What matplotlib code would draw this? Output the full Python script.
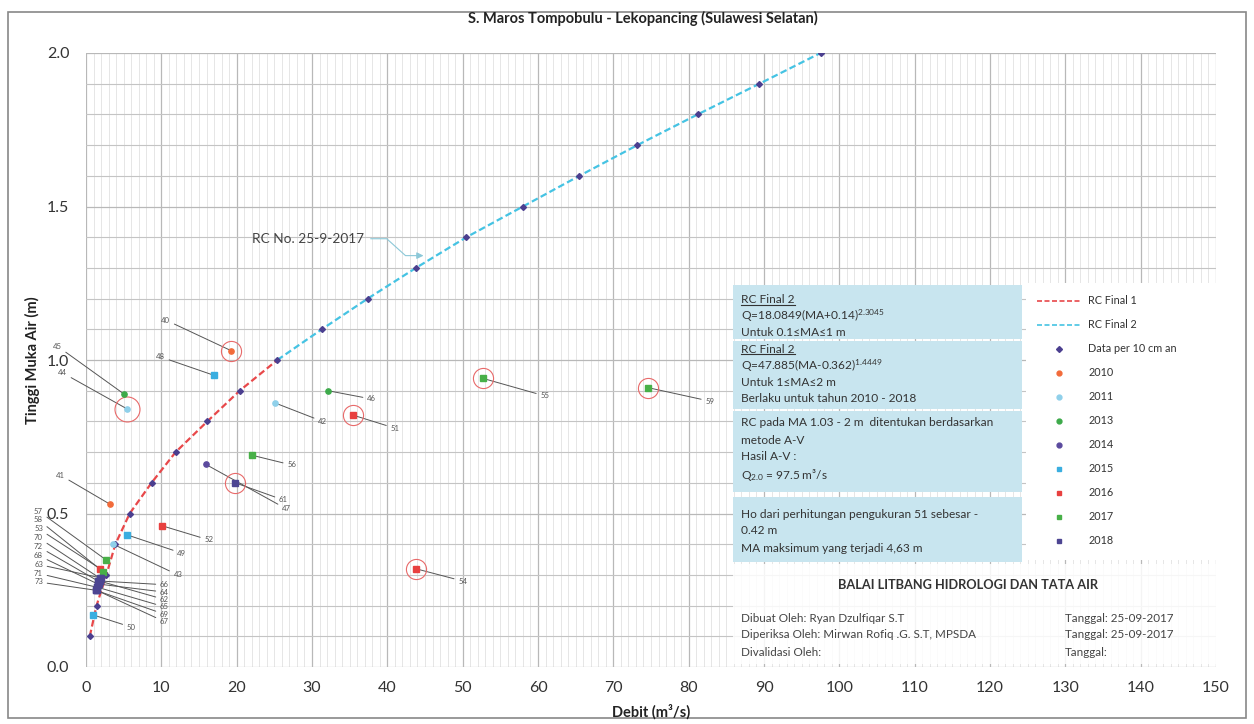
import matplotlib.pyplot as plt
import matplotlib.ticker as mticker
from matplotlib.lines import Line2D
from matplotlib.patches import Rectangle

plt.rcParams['font.family'] = ['Lato', 'DejaVu Sans']
plt.rcParams['mathtext.default'] = 'regular'

W, H = 1254, 724

# ---- rating curve points (per 10 cm) ----
ma_10cm = [0.1, 0.2, 0.3, 0.4, 0.5, 0.6, 0.7, 0.8, 0.9, 1.0,
           1.1, 1.2, 1.3, 1.4, 1.5, 1.6, 1.7, 1.8, 1.9, 2.0]
q_10cm = [0.5, 1.4, 2.7, 3.9, 5.8, 8.7, 11.9, 16.1, 20.4, 25.4,
          31.3, 37.4, 43.8, 50.5, 58.0, 65.5, 73.2, 81.2, 89.4, 97.5]
n_rc1 = 10  # first 10 points belong to RC Final 1

# ---- gauging measurements ----
meas_no = ['40', '41', '42', '43', '44', '45', '46', '47', '48', '49', '50',
           '51', '52', '53', '54', '55', '56', '57', '58', '59',
           '61', '62', '63', '64', '65', '66', '67', '68', '69',
           '70', '71', '72', '73']
meas_year = ['2010', '2010', '2011', '2011', '2011', '2013', '2013', '2014', '2015', '2015', '2015',
             '2016', '2016', '2016', '2016', '2017', '2017', '2017', '2017', '2017',
             '2018', '2018', '2018', '2018', '2018', '2018', '2018', '2018', '2018',
             '2018', '2018', '2018', '2018']
meas_q = [19.3, 3.2, 25.1, 3.6, 5.5, 5.0, 32.1, 15.9, 17.0, 5.5, 0.9,
          35.5, 10.1, 1.9, 43.8, 52.7, 22.0, 2.6, 2.3, 74.6,
          19.8, 1.8, 2.0, 1.7, 1.5, 1.9, 1.4, 1.6, 1.3,
          1.8, 1.4, 1.6, 1.3]
meas_ma = [1.03, 0.53, 0.86, 0.40, 0.84, 0.89, 0.90, 0.66, 0.95, 0.43, 0.17,
           0.82, 0.46, 0.32, 0.32, 0.94, 0.69, 0.35, 0.31, 0.91,
           0.60, 0.28, 0.29, 0.27, 0.26, 0.28, 0.25, 0.27, 0.25,
           0.29, 0.26, 0.28, 0.25]
circled = ['40', '44', '51', '54', '55', '59', '61']

# label text positions (layout only)
label_pos = {
    '40': (11.2, 1.13), '41': (-2.8, 0.625), '42': (30.8, 0.80), '43': (11.6, 0.30),
    '44': (-2.5, 0.958), '45': (-3.2, 1.045), '46': (37.3, 0.873), '47': (26.0, 0.515),
    '48': (10.5, 1.01), '49': (12.1, 0.371), '50': (5.4, 0.13), '51': (40.4, 0.778),
    '52': (15.7, 0.414), '53': (-5.7, 0.450), '54': (49.4, 0.28), '55': (60.3, 0.883),
    '56': (26.7, 0.658), '57': (-5.7, 0.508), '58': (-5.7, 0.479), '59': (82.2, 0.866),
    '61': (25.6, 0.544), '62': (9.8, 0.220), '63': (-5.7, 0.334), '64': (9.8, 0.244),
    '65': (9.8, 0.196), '66': (9.8, 0.268), '67': (9.8, 0.148), '68': (-5.7, 0.363),
    '69': (9.8, 0.172), '70': (-5.7, 0.421), '71': (-5.7, 0.305), '72': (-5.7, 0.392),
    '73': (-5.7, 0.277),
}

year_style = {
    '2010': ('#f26b3a', 'o'), '2011': ('#8fd0ea', 'o'), '2013': ('#3daa4a', 'o'),
    '2014': ('#5b4a9e', 'o'), '2015': ('#3aaee0', 's'), '2016': ('#e8403f', 's'),
    '2017': ('#48b048', 's'), '2018': ('#4d4592', 's'),
}
navy = '#4b3f8f'

fig = plt.figure(figsize=(W / 100, H / 100), dpi=100)
ax = fig.add_axes([86 / W, 1 - 667 / H, (1216 - 86) / W, (667 - 53) / H])
ax.set_xlim(0, 150)
ax.set_ylim(0, 2.0)

# grid
ax.xaxis.set_major_locator(mticker.MultipleLocator(10))
ax.xaxis.set_minor_locator(mticker.MultipleLocator(1))
ax.yaxis.set_major_locator(mticker.MultipleLocator(0.5))
ax.yaxis.set_minor_locator(mticker.MultipleLocator(0.1))
ax.yaxis.set_major_formatter(mticker.FormatStrFormatter('%.1f'))
ax.grid(True, which='major', color='#b8b8b8', lw=0.9)
ax.grid(True, which='minor', axis='x', color='#e2e2e2', lw=0.6)
ax.grid(True, which='minor', axis='y', color='#c4c4c4', lw=0.8)
ax.set_axisbelow(True)
for s in ax.spines.values():
    s.set_visible(False)
ax.tick_params(which='both', length=0)
ax.tick_params(axis='y', labelsize=11.5, labelcolor='#333333', pad=12)
ax.tick_params(axis='x', labelsize=11.5, labelcolor='#333333', pad=10)

# rating curves
ax.plot(q_10cm[:n_rc1], ma_10cm[:n_rc1], ls=(0, (3, 1.5)), color='#e8484a', lw=1.6, zorder=3)
ax.plot(q_10cm[n_rc1 - 1:], ma_10cm[n_rc1 - 1:], ls=(0, (3, 1.5)), color='#45c3e3', lw=1.6, zorder=3)
ax.plot(q_10cm, ma_10cm, ls='none', marker='D', ms=3.0, color=navy, zorder=4)

# measurements
for no, yr, q, ma in zip(meas_no, meas_year, meas_q, meas_ma):
    c, m = year_style[yr]
    ax.plot(q, ma, ls='none', marker=m, ms=3.8, color=c, zorder=5)
    lx, ly = label_pos[no]
    ax.annotate(no, xy=(q, ma), xytext=(lx, ly), fontsize=5.6, color='#555555',
                ha='right' if lx < q else 'left', va='center', annotation_clip=False,
                arrowprops=dict(arrowstyle='-', color='#555555', lw=0.7,
                                shrinkA=1, shrinkB=1.5))
    if no in circled:
        ax.plot(q, ma, ls='none', marker='o', ms=18 if no == '44' else 14.5,
                mfc='none', mec='#e86a6a', mew=0.8, zorder=5)

ax.annotate('RC No. 25-9-2017', xy=(q_10cm[12] + 1.0, 1.34), xytext=(22.0, 1.395),
            fontsize=9.8, color='#444444', va='center', ha='left',
            arrowprops=dict(arrowstyle='-|>', color='#8cc8d8', lw=0.8, relpos=(1, 0.5),
                            connectionstyle='arc,angleA=0,angleB=180,armA=23,armB=18,rad=0',
                            shrinkA=3, shrinkB=0))

# title and axis labels
fig.text(643 / W, 1 - 18 / H, 'S. Maros Tompobulu - Lekopancing (Sulawesi Selatan)',
         ha='center', va='center', fontsize=10.5, fontweight='bold', color='#222222')
fig.text(651 / W, 1 - 712 / H, 'Debit (m\u00b3/s)', ha='center', va='center',
         fontsize=10.5, fontweight='bold', color='#222222')
fig.text(32 / W, 1 - 360 / H, 'Tinggi Muka Air (m)', ha='center', va='center',
         rotation=90, fontsize=10.5, fontweight='bold', color='#222222')

# outer border
fig.patches.append(Rectangle((8 / W, 1 - 718 / H), (1246 - 8) / W, (718 - 12) / H,
                             transform=fig.transFigure, fill=False, ec='#888888', lw=1.2))


def fbox(x0, y0, x1, y1, **kw):
    fig.patches.append(Rectangle((x0 / W, 1 - y1 / H), (x1 - x0) / W, (y1 - y0) / H,
                                 transform=fig.transFigure, **kw))


# white panel behind the legend
fbox(1026, 283, 1222, 560, fc='white', ec='none', zorder=5)

# info box (blue)
blue = '#c8e5ef'
fbox(733, 285, 1022, 339, fc=blue, ec='none', zorder=6)
fbox(733, 341, 1022, 409, fc=blue, ec='none', zorder=6)
fbox(733, 411, 1022, 492, fc=blue, ec='none', zorder=6)
fbox(733, 497, 1022, 562, fc=blue, ec='none', zorder=6)

info_lines = [
    (300, 'RC Final 2', True),
    (316, 'Q=18.0849(MA+0.14)$^{2.3045}$', False),
    (332, 'Untuk 0.1\u2264MA\u22641 m', False),
    (349, 'RC Final 2', True),
    (366, 'Q=47.885(MA-0.362)$^{1.4449}$', False),
    (382, 'Untuk 1\u2264MA\u22642 m', False),
    (399, 'Berlaku untuk tahun 2010 - 2018', False),
    (423, 'RC pada MA 1.03 - 2 m  ditentukan berdasarkan', False),
    (440, 'metode A-V', False),
    (457, 'Hasil A-V :', False),
    (475, 'Q$_{2.0}$ = 97.5 m\u00b3/s', False),
    (514, 'Ho dari perhitungan pengukuran 51 sebesar -', False),
    (531, '0.42 m', False),
    (548, 'MA maksimum yang terjadi 4,63 m', False),
]
under = []
for y, s, ul in info_lines:
    t = fig.text(741 / W, 1 - y / H, s, ha='left', va='center', fontsize=8.6,
                 color='#333333', zorder=7)
    if ul:
        under.append(t)

# legend
handles = [
    Line2D([], [], ls=(0, (3, 1.5)), color='#e8484a', lw=1.2),
    Line2D([], [], ls=(0, (3, 1.5)), color='#45c3e3', lw=1.2),
    Line2D([], [], ls='none', marker='D', ms=3, color=navy),
]
labels = ['RC Final 1', 'RC Final 2', 'Data per 10 cm an']
for yr in ['2010', '2011', '2013', '2014', '2015', '2016', '2017', '2018']:
    c, m = year_style[yr]
    handles.append(Line2D([], [], ls='none', marker=m, ms=3.5, color=c))
    labels.append(yr)
leg = fig.legend(handles, labels, loc='upper left', bbox_to_anchor=(1030 / W, 1 - 289 / H),
                 fontsize=7.8, frameon=False, handlelength=4.2, labelspacing=1.2,
                 borderpad=0.6, handletextpad=0.6, borderaxespad=0)
leg.set_zorder(6)
for t in leg.get_texts():
    t.set_color('#333333')

# bottom info box
fbox(733, 564, 1216, 664, fc='white', ec='none', alpha=0.85, zorder=6)
fig.text(968 / W, 1 - 585 / H, 'BALAI LITBANG HIDROLOGI DAN TATA AIR', ha='center',
         va='center', fontsize=9.2, fontweight='bold', color='#333333', zorder=7)
foot_left = ['Dibuat Oleh: Ryan Dzulfiqar S.T',
             'Diperiksa Oleh: Mirwan Rofiq .G. S.T, MPSDA',
             'Divalidasi Oleh:']
foot_right = ['Tanggal: 25-09-2017', 'Tanggal: 25-09-2017', 'Tanggal:']
for y, a, b in zip([618, 635, 652], foot_left, foot_right):
    fig.text(741 / W, 1 - y / H, a, ha='left', va='center', fontsize=8.4, color='#444444', zorder=7)
    fig.text(1065 / W, 1 - y / H, b, ha='left', va='center', fontsize=8.4, color='#444444', zorder=7)

# underline the "RC Final 2" headings
fig.canvas.draw()
r = fig.canvas.get_renderer()
for t in under:
    bb = t.get_window_extent(r).transformed(fig.transFigure.inverted())
    fig.add_artist(Line2D([bb.x0, bb.x1], [bb.y0 + 0.001, bb.y0 + 0.001],
                          transform=fig.transFigure, color='#333333', lw=0.8, zorder=7))

fig.savefig('out.png', dpi=100, facecolor='white')
